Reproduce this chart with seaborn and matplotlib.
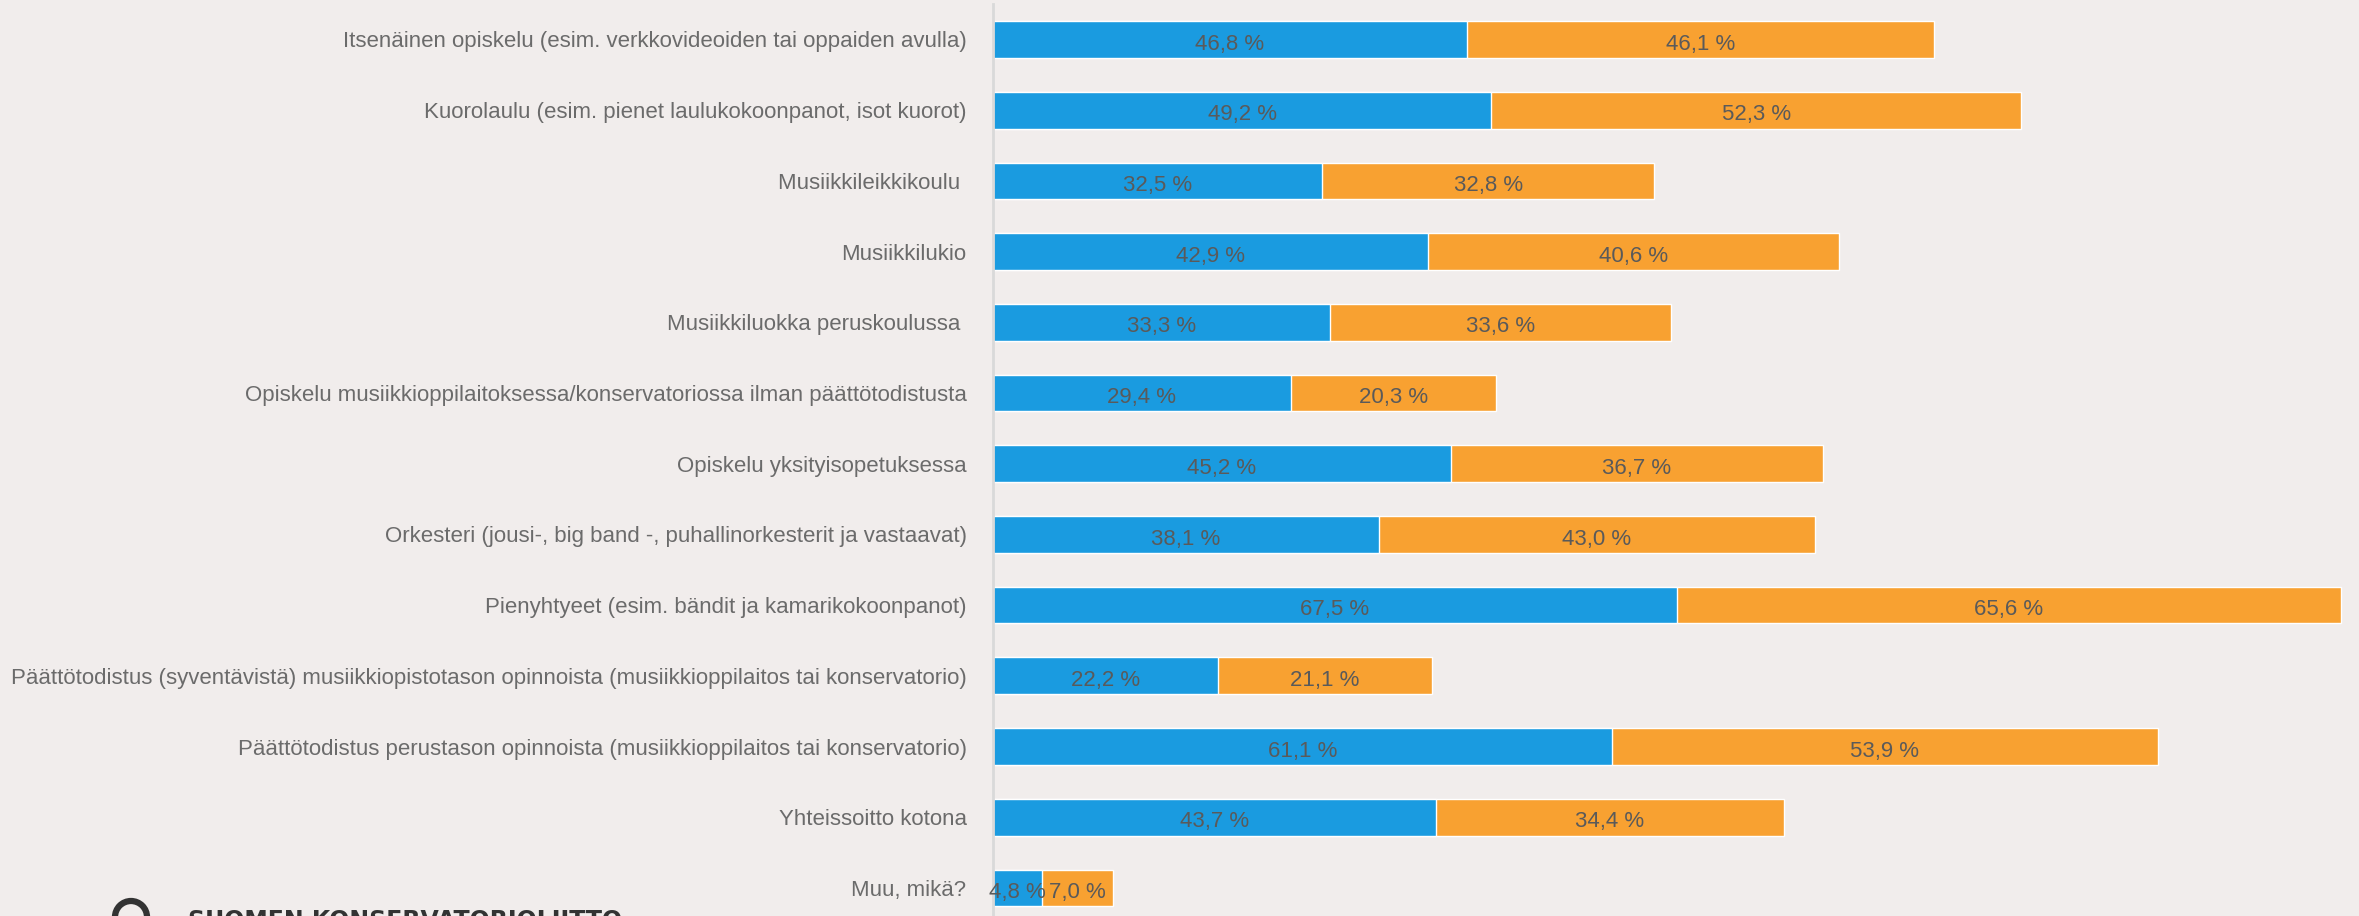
import numpy as np
import pandas as pd
import seaborn as sns
import matplotlib.pyplot as plt
from matplotlib.patches import Ellipse
from matplotlib import font_manager

# ------------------------------------------------
# DATA
# ------------------------------------------------
categories = [
    "Itsenäinen opiskelu (esim. verkkovideoiden tai oppaiden avulla)",
    "Kuorolaulu (esim. pienet laulukokoonpanot, isot kuorot)",
    "Musiikkileikkikoulu ",
    "Musiikkilukio",
    "Musiikkiluokka peruskoulussa ",
    "Opiskelu musiikkioppilaitoksessa/konservatoriossa ilman päättötodistusta",
    "Opiskelu yksityisopetuksessa",
    "Orkesteri (jousi-, big band -, puhallinorkesterit ja vastaavat)",
    "Pienyhtyeet (esim. bändit ja kamarikokoonpanot)",
    "Päättötodistus (syventävistä) musiikkiopistotason opinnoista (musiikkioppilaitos tai konservatorio)",
    "Päättötodistus perustason opinnoista (musiikkioppilaitos tai konservatorio)",
    "Yhteissoitto kotona",
    "Muu, mikä?",
]
blue_vals = [46.8, 49.2, 32.5, 42.9, 33.3, 29.4, 45.2, 38.1, 67.5, 22.2, 61.1, 43.7, 4.8]
orange_vals = [46.1, 52.3, 32.8, 40.6, 33.6, 20.3, 36.7, 43.0, 65.6, 21.1, 53.9, 34.4, 7.0]

df = pd.DataFrame({"cat": categories, "blue": blue_vals, "orange": orange_vals})
df["total"] = df["blue"] + df["orange"]

BG = "#f1edec"
BLUE = "#1a9be0"
ORANGE = "#f8a131"
TXT = "#6b6b6b"
VAL = "#5a5a5a"

sns.set_style("white")
names = {f.name for f in font_manager.fontManager.ttflist}
fam = "Liberation Sans Narrow" if "Liberation Sans Narrow" in names else "Liberation Sans"
plt.rcParams["font.family"] = [fam, "DejaVu Sans"]

W, H = 2359, 916
fig = plt.figure(figsize=(W / 100, H / 100), dpi=100, facecolor=BG)
x0, top, pitch = 993, 4.15, 70.7
ax_h = pitch * len(categories)
ax = fig.add_axes([x0 / W, (H - top - ax_h) / H, (W - x0) / W, ax_h / H])
ax.set_facecolor(BG)

# stacked: total first (orange), blue on top
sns.barplot(data=df, x="total", y="cat", color=ORANGE, saturation=1, width=0.52, ax=ax)
sns.barplot(data=df, x="blue", y="cat", color=BLUE, saturation=1, width=0.52, ax=ax)

ax.set_xlim(0, (W - x0) / 10.13)
ax.set_ylim(len(categories) - 0.5, -0.5)
ax.set_xlabel("")
ax.set_ylabel("")
ax.set_xticks([])
for s in ["top", "right", "bottom"]:
    ax.spines[s].set_visible(False)
ax.spines["left"].set_color("#d9d9d9")
ax.spines["left"].set_linewidth(2)
ax.tick_params(axis="y", length=0, pad=19, labelsize=16, labelcolor=TXT)

def fmt(v):
    return f"{v:.1f} %".replace(".", ",")

for i, (b, o) in enumerate(zip(blue_vals, orange_vals)):
    ax.text(b / 2, i + 0.03, fmt(b), ha="center", va="center_baseline", fontsize=16, color=VAL)
    ax.text(b + o / 2, i + 0.03, fmt(o), ha="center", va="center_baseline", fontsize=16, color=VAL)

# partial logo at the bottom edge
fig.text(188 / W, (H - 909) / H, "SUOMEN KONSERVATORIOLIITTO", ha="left", va="top",
         fontsize=17, fontweight="bold", color="#333333", family="DejaVu Sans")
ring = Ellipse((131 / W, (H - 917) / H), 32 / W, 32 / H, transform=fig.transFigure,
               fill=False, edgecolor="#333333", linewidth=4.5)
fig.patches.append(ring)

fig.savefig("out.png", dpi=100, facecolor=BG)
